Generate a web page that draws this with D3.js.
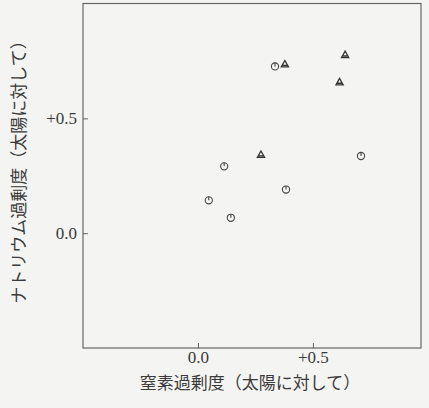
<!DOCTYPE html>
<html>
<head>
    <meta charset="utf-8">
    <title>窒素過剰度とナトリウム過剰度</title>
    <script src="https://d3js.org/d3.v7.min.js"></script>
    <style>
        body { margin: 0; background: #f4f4f3; }
        .tick text {
            font-family: "Liberation Serif", "DejaVu Serif", serif;
            font-size: 17px;
            fill: #3a3a3a;
        }
        .tick line { stroke: #666; }
        .axis-label {
            font-family: "Noto Sans CJK JP", sans-serif;
            font-size: 17px;
            fill: #3a3a3a;
        }
    </style>
</head>
<body>
    <svg width="429" height="408"></svg>
    <script>
        // circles (open symbol with a tick) and triangles
        var circleX = [0.335, 0.114, 0.383, 0.047, 0.143, 0.709];
        var circleY = [0.726, 0.291, 0.190, 0.143, 0.067, 0.336];
        var triX = [0.378, 0.640, 0.616, 0.274];
        var triY = [0.736, 0.777, 0.658, 0.342];
        var tickVals = [0.0, 0.5];
        var tickLabels = ["0.0", "+0.5"];

        var svg = d3.select("svg"),
            margin = {top: 3.5, right: 8, bottom: 60, left: 83},
            width = +svg.attr("width") - margin.left - margin.right,
            height = +svg.attr("height") - margin.top - margin.bottom;

        var x = d3.scaleLinear().domain([-0.5, 0.97]).range([0, width]);
        var y = d3.scaleLinear().domain([-0.5, 1.0]).range([height, 0]);

        var g = svg.append("g")
                   .attr("transform", "translate(" + margin.left + "," + margin.top + ")");

        var fmt = function(d) { return tickLabels[tickVals.indexOf(d)]; };

        g.append("g")
         .attr("transform", "translate(0," + height + ")")
         .call(d3.axisBottom(x).tickValues(tickVals).tickFormat(fmt).tickSize(-5).tickPadding(3))
         .call(function(a) { a.select(".domain").remove(); });

        g.append("g")
         .call(d3.axisLeft(y).tickValues(tickVals).tickFormat(fmt).tickSize(-5).tickPadding(6))
         .call(function(a) { a.select(".domain").remove(); });

        g.append("rect")
         .attr("width", width)
         .attr("height", height)
         .attr("fill", "none")
         .attr("stroke", "#666")
         .attr("stroke-width", 1.2);

        // circle markers
        var circles = g.selectAll(".c")
         .data(d3.range(circleX.length))
         .enter().append("g")
         .attr("class", "c")
         .attr("transform", function(i) { return "translate(" + x(circleX[i]) + "," + y(circleY[i]) + ")"; });
        circles.append("circle")
         .attr("r", 3.6)
         .attr("fill", "none")
         .attr("stroke", "#444")
         .attr("stroke-width", 1.1);
        circles.append("line")
         .attr("y1", -3.6).attr("y2", 0)
         .attr("stroke", "#444")
         .attr("stroke-width", 1.1);

        // triangle markers
        g.selectAll(".t")
         .data(d3.range(triX.length))
         .enter().append("path")
         .attr("class", "t")
         .attr("transform", function(i) { return "translate(" + x(triX[i]) + "," + y(triY[i]) + ")"; })
         .attr("d", "M0,-3.6L3.6,2.8L-3.6,2.8Z M-2,1.2L2,1.2")
         .attr("fill", "none")
         .attr("stroke", "#333")
         .attr("stroke-width", 1.3);

        svg.append("text")
         .attr("class", "axis-label")
         .attr("x", 250)
         .attr("y", 389)
         .attr("text-anchor", "middle")
         .text("窒素過剰度（太陽に対して）");

        svg.append("text")
         .attr("class", "axis-label")
         .attr("transform", "translate(25,168) rotate(-90)")
         .attr("text-anchor", "middle")
         .text("ナトリウム過剰度（太陽に対して）");
    </script>
</body>
</html>
